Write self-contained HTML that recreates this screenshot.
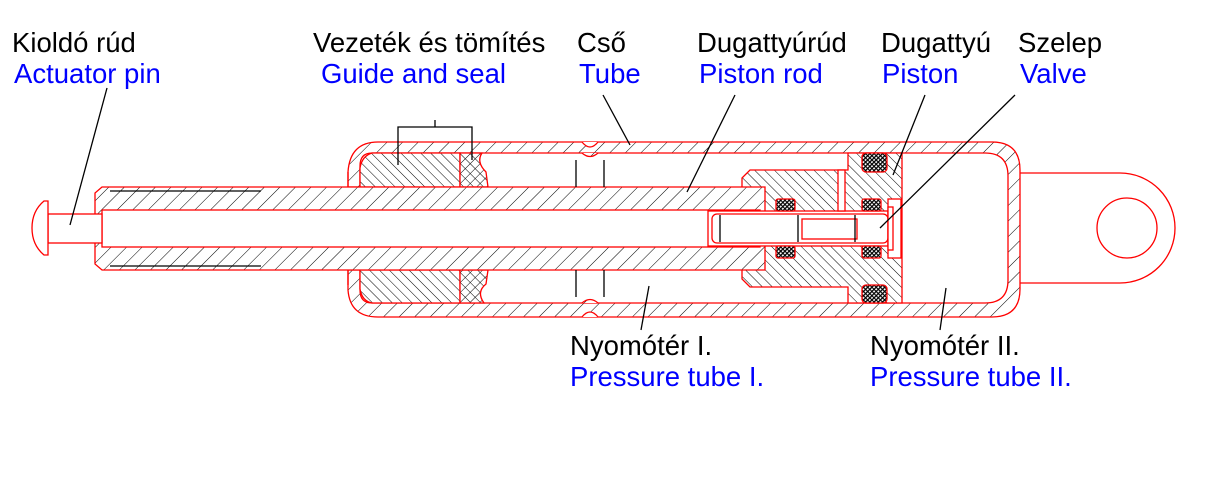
<!DOCTYPE html>
<html><head><meta charset="utf-8"><style>
html,body{margin:0;padding:0;background:#fff;width:1210px;height:485px;overflow:hidden}
svg{display:block}
text{font-family:"Liberation Sans",Arial,sans-serif;font-size:27.5px}
.k{fill:#000}.b{fill:#0000ff}
</style></head><body>
<svg width="1210" height="485" viewBox="0 0 1210 485" xmlns="http://www.w3.org/2000/svg">
<defs>
<pattern id="h1" width="11" height="11" patternUnits="userSpaceOnUse" patternTransform="rotate(45)">
<rect width="11" height="11" fill="#fff"/><line x1="0" y1="0" x2="0" y2="11" stroke="#000" stroke-width="1"/></pattern>
<pattern id="h3" width="7" height="7" patternUnits="userSpaceOnUse" patternTransform="rotate(-45)">
<rect width="7" height="7" fill="#fff"/><line x1="0" y1="0" x2="0" y2="7" stroke="#000" stroke-width="1"/></pattern>
<pattern id="x1" width="7" height="7" patternUnits="userSpaceOnUse" patternTransform="rotate(45)">
<rect width="7" height="7" fill="#fff"/><line x1="0" y1="0" x2="0" y2="7" stroke="#000"/><line x1="0" y1="0" x2="7" y2="0" stroke="#000"/></pattern>
<pattern id="x2" width="3" height="3" patternUnits="userSpaceOnUse" patternTransform="rotate(45)">
<rect width="3" height="3" fill="#fff"/><rect width="1.3" height="3" fill="#000"/><rect width="3" height="1.1" fill="#000"/></pattern>
</defs>
<g stroke="#ff0000" stroke-width="1.3">
<path d="M1020,173 L1120,173 A55,55 0 0 1 1120,283 L1020,283" fill="#fff"/>
<circle cx="1127" cy="228" r="30" fill="#fff"/>
<path fill-rule="evenodd" fill="url(#h1)" d="M378,142 L992,142 Q1020,142 1020,170 L1020,289 Q1020,317 992,317 L378,317 Q350,317 348,290 L348,172 Q350,142 378,142 Z M372,153 L985,153 Q1008,153 1008,176 L1008,280 Q1008,303 985,303 L372,303 Q360,303 360,290 L360,166 Q360,153 372,153 Z"/>
<path d="M348,172 L348,187 L360,187 M348,285 L348,270 L360,270" fill="none"/>
<path d="M582,142 Q590,152 598,142" fill="#fff"/>
<path d="M582,153 Q590,160 598,153" fill="url(#h1)"/>
<path d="M582,317 Q590,307 598,317" fill="#fff"/>
<path d="M582,303 Q590,296 598,303" fill="url(#h1)"/>
<path d="M372,153 L460,153 L460,187 L360,187 L360,168 Q362,156 372,153 Z" fill="url(#h3)"/>
<path d="M460,153 L482,153 Q476,162 486,172 L488,187 L460,187 Z" fill="url(#x1)"/>
<path d="M372,303 L460,303 L460,270 L360,270 L360,289 Q362,301 372,303 Z" fill="url(#h3)"/>
<path d="M460,303 L484,303 Q476,292 486,284 L488,270 L460,270 Z" fill="url(#x1)"/>
<path d="M742,178 L750,170 L848,170 L848,153 L902,153 L902,303 L848,303 L848,287 L750,287 L742,279 Z" fill="url(#h3)"/>
<path d="M102,187 L765,187 L765,270 L102,270 L95,264 L95,193 Z" fill="url(#h1)"/>
<rect x="102" y="210" width="658" height="37" fill="#fff"/>
<rect x="48" y="214" width="54" height="29" fill="#fff"/>
<path d="M48,201 L48,255 L44,255 Q32,245 32,228 Q32,211 44,201 Z" fill="#fff"/>
<rect x="708" y="211" width="180" height="35" fill="#fff"/>
<rect x="712" y="214" width="176" height="29" rx="5" fill="#fff"/>
<rect x="802" y="219" width="55" height="20" fill="#fff"/>
<rect x="888" y="199" width="13" height="59" fill="#fff"/>
<rect x="888" y="207" width="5" height="43" fill="#fff"/>
<rect x="838" y="170" width="7" height="41" fill="#fff"/>
<rect x="862" y="153" width="25" height="19" rx="4" fill="url(#x2)"/>
<rect x="862" y="285" width="25" height="18" rx="4" fill="url(#x2)"/>
<rect x="776" y="199" width="19" height="12" rx="2" fill="url(#x2)"/>
<rect x="776" y="246" width="19" height="12" rx="2" fill="url(#x2)"/>
<rect x="862" y="199" width="19" height="12" rx="2" fill="url(#x2)"/>
<rect x="862" y="246" width="19" height="12" rx="2" fill="url(#x2)"/>
</g>
<g stroke="#000" stroke-width="1.3" fill="none">
<path d="M110,191 L261,191 M110,266 L261,266"/>
<path d="M576,160 L576,187 M604,160 L604,187 M576,270 L576,297 M604,270 L604,297"/>
<path d="M720,215 L720,242 M798,215 L798,242 M855,215 L855,242"/>
<path d="M107,88 L70,225"/>
<path d="M398,165 L398,127 L472,127 L472,160 M435,127 L435,120"/>
<path d="M603,95 L630,145"/>
<path d="M735,95 L687,192"/>
<path d="M925,95 L893,175"/>
<path d="M1015,95 L880,228"/>
<path d="M649,286 L641,330"/>
<path d="M946,288 L940,330"/>
</g>
<text x="12" y="52" class="k">Kioldó rúd</text>
<text x="14" y="83" class="b">Actuator pin</text>
<text x="313" y="52" class="k">Vezeték és tömítés</text>
<text x="321" y="83" class="b">Guide and seal</text>
<text x="577" y="52" class="k">Cső</text>
<text x="579" y="83" class="b">Tube</text>
<text x="697" y="52" class="k">Dugattyúrúd</text>
<text x="699" y="83" class="b">Piston rod</text>
<text x="881" y="52" class="k">Dugattyú</text>
<text x="882" y="83" class="b">Piston</text>
<text x="1018" y="52" class="k">Szelep</text>
<text x="1020" y="83" class="b">Valve</text>
<text x="570" y="355" class="k">Nyomótér I.</text>
<text x="570" y="386" class="b">Pressure tube I.</text>
<text x="870" y="355" class="k">Nyomótér II.</text>
<text x="870" y="386" class="b">Pressure tube II.</text>
</svg>
</body></html>
